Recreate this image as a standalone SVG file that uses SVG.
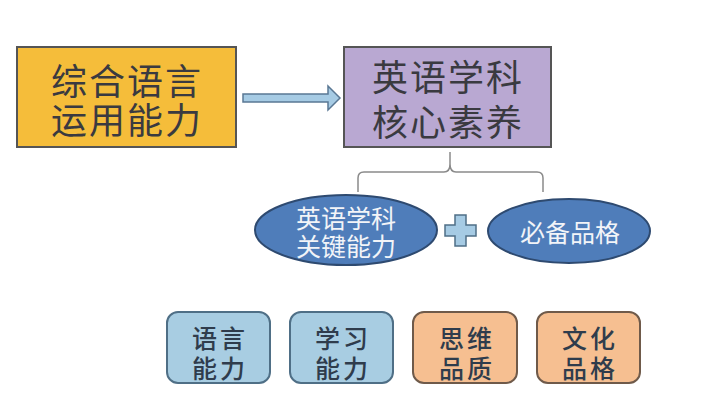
<svg xmlns="http://www.w3.org/2000/svg" width="708" height="407" viewBox="0 0 708 407">
<style>
text{font-family:"Noto Sans CJK SC","Noto Sans",sans-serif;text-anchor:middle;dominant-baseline:central;fill:#3a3a40}
.big{font-size:36px;letter-spacing:2px}
.mid{font-size:25px;fill:#f2f4f8}
.sm{font-size:25px;fill:#2f3c4c;letter-spacing:3px;font-weight:500}
.blue{fill:#a8cde2;stroke:#4f6f86;stroke-width:2}
.orange{fill:#f6bf91;stroke:#6f5a4a;stroke-width:2}
.ell{fill:#4f7dba;stroke:#2e4a70;stroke-width:2}
</style>
<rect width="708" height="407" fill="#ffffff"/>
<g id="connectors">
<path d="M243,94 H328 V86 L340,98 L328,110 V102 H243 Z" fill="#a6cbe4" stroke="#5a7894" stroke-width="1.5"/>
<path d="M358,192 V178 Q358,172 364,172 H444 Q450,172 450,164 Q450,172 456,172 H537 Q543,172 543,178 V192 M450,164 V152" fill="none" stroke="#8a8a8a" stroke-width="1.5"/>
</g>
<g id="n-zonghe">
<rect x="17" y="47" width="219" height="100" fill="#f5bd3a" stroke="#555" stroke-width="2"/>
<text class="big" x="127" y="79">综合语言</text>
<text class="big" x="127" y="118">运用能力</text>
</g>
<g id="n-hexin">
<rect x="344" y="47" width="207" height="100" fill="#b9a8d2" stroke="#555" stroke-width="2"/>
<text class="big" x="448" y="75">英语学科</text>
<text class="big" x="448" y="120">核心素养</text>
</g>
<g id="n-guanjian">
<ellipse class="ell" cx="346" cy="230" rx="91" ry="35"/>
<text class="mid" x="346" y="217">英语学科</text>
<text class="mid" x="346" y="245">关键能力</text>
</g>
<g id="plus">
<path d="M455,215 H466 V225 H476 V236 H466 V246 H455 V236 H445 V225 H455 Z" fill="#a6cbe4" stroke="#4f6f86" stroke-width="1.5"/>
</g>
<g id="n-bibei">
<ellipse class="ell" cx="569" cy="231" rx="81" ry="32"/>
<text class="mid" x="570" y="231">必备品格</text>
</g>
<g id="n-yuyan">
<rect class="blue" x="167" y="312" width="103" height="71" rx="11"/>
<text class="sm" x="220" y="337">语言</text>
<text class="sm" x="220" y="367">能力</text>
</g>
<g id="n-xuexi">
<rect class="blue" x="290" y="312" width="103" height="71" rx="11"/>
<text class="sm" x="343" y="337">学习</text>
<text class="sm" x="343" y="367">能力</text>
</g>
<g id="n-siwei">
<rect class="orange" x="413" y="312" width="104" height="71" rx="11"/>
<text class="sm" x="467" y="337">思维</text>
<text class="sm" x="467" y="367">品质</text>
</g>
<g id="n-wenhua">
<rect class="orange" x="537" y="312" width="103" height="71" rx="11"/>
<text class="sm" x="590" y="337">文化</text>
<text class="sm" x="590" y="367">品格</text>
</g>
</svg>
